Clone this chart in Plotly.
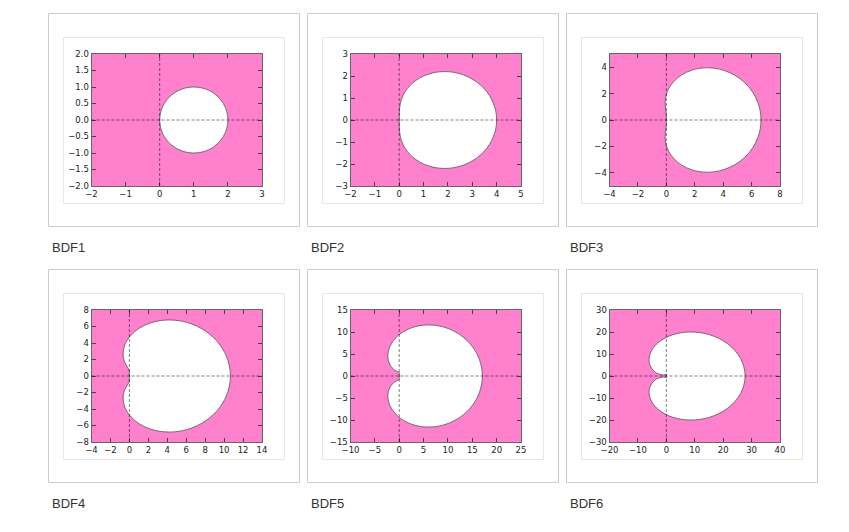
import plotly.graph_objects as go

PAGE_W, PAGE_H = 849, 532
BODY_MARGIN = 8  # the page places the figure 8px in from the top-left corner
W, H = PAGE_W - BODY_MARGIN, PAGE_H - BODY_MARGIN

# ---------------- data (upper half of each boundary locus) -------------
bdf1_x = [0, 0.0152, 0.0603, 0.1340, 0.2340, 0.3572, 0.5, 0.6580, 0.8264, 1, 1.1736, 1.2588, 1.3420, 1.4226, 1.5, 1.6088, 1.7071, 1.7934, 1.8660, 1.9239, 1.9659, 1.9914, 2]
bdf1_y = [0, 0.1736, 0.3420, 0.5, 0.6428, 0.7660, 0.8660, 0.9397, 0.9848, 1, 0.9848, 0.9659, 0.9397, 0.9063, 0.8660, 0.7934, 0.7071, 0.6088, 0.5, 0.3827, 0.2588, 0.1305, 0]

bdf2_x = [0, 0.0002, 0.0036, 0.0179, 0.0547, 0.1276, 0.25, 0.4329, 0.6829, 1, 1.3775, 1.5846, 1.8010, 2.0238, 2.25, 2.5881, 2.9142, 3.2161, 3.4821, 3.7013, 3.8649, 3.9659, 4]
bdf2_y = [0, 0.1763, 0.3627, 0.5670, 0.7932, 1.0397, 1.2990, 1.5580, 1.7986, 2, 2.1406, 2.1819, 2.2008, 2.1956, 2.1651, 2.0697, 1.9142, 1.7005, 1.4330, 1.1189, 0.7677, 0.3905, 0]

bdf3_x = [0, -0.0002, -0.0033, -0.0147, -0.0377, -0.0668, -0.0833, -0.0531, 0.0695, 0.3333, 0.7781, 1.0751, 1.4217, 1.8150, 2.25, 2.9634, 3.7190, 4.4741, 5.1814, 5.7932, 6.2658, 6.5645, 6.6667]
bdf3_y = [0, 0.1746, 0.3506, 0.5343, 0.7398, 0.9876, 1.2990, 1.6882, 2.1527, 2.6667, 3.1788, 3.4121, 3.6166, 3.7817, 3.8971, 3.9565, 3.8570, 3.5831, 3.1324, 2.5167, 1.7622, 0.9074, 0]

bdf4_x = [0, 0.0000, -0.0006, -0.0058, -0.0282, -0.0890, -0.2083, -0.3848, -0.5722, -0.6667, -0.5163, -0.2973, 0.0420, 0.5141, 1.125, 2.2936, 3.7190, 5.3065, 6.9224, 8.4104, 9.6129, 10.3952, 10.6667]
bdf4_y = [0, 0.1745, 0.3482, 0.5188, 0.6859, 0.8619, 1.0825, 1.4099, 1.9192, 2.6667, 3.6499, 4.2044, 4.7743, 5.3321, 5.8457, 6.4564, 6.7712, 6.6897, 6.1479, 5.1339, 3.6946, 1.9338, 0]

bdf5_x = [0, 0.0000, 0.0002, 0.0014, 0.0014, -0.0183, -0.1083, -0.3501, -0.8124, -1.4667, -2.1028, -2.2915, -2.3095, -2.0905, -1.575, -0.1552, 2.0704, 4.9878, 8.3153, 11.6373, 14.4769, 16.3910, 17.0667]
bdf5_y = [0, 0.1745, 0.3489, 0.5207, 0.6807, 0.8124, 0.9093, 1.0141, 1.2592, 1.8667, 3.0725, 3.9418, 4.9800, 6.1533, 7.4045, 9.2487, 10.7512, 11.5519, 11.3460, 9.9633, 7.4268, 3.9691, 0]

bdf6_x = [0, 0.0000, 0.0001, 0.0014, 0.0099, 0.0343, 0.0583, -0.0212, -0.4362, -1.4667, -3.1806, -4.1722, -5.1004, -5.7986, -6.075, -5.2842, -2.6200, 2.0449, 8.3153, 15.2707, 21.6404, 26.1198, 27.7333]
bdf6_y = [0, 0.1745, 0.3491, 0.5239, 0.6955, 0.8428, 0.9093, 0.8242, 0.6077, 0.5333, 1.2057, 2.0612, 3.3687, 5.1597, 7.4045, 11.3732, 15.4415, 18.6567, 20.0094, 18.7351, 14.5903, 7.9989, 0]

titles = ["BDF1", "BDF2", "BDF3", "BDF4", "BDF5", "BDF6"]
curves_x = [bdf1_x, bdf2_x, bdf3_x, bdf4_x, bdf5_x, bdf6_x]
curves_y = [bdf1_y, bdf2_y, bdf3_y, bdf4_y, bdf5_y, bdf6_y]
x_ranges = [[-2, 3], [-2, 5], [-4, 8], [-4, 14], [-10, 25], [-20, 40]]
y_ranges = [[-2, 2], [-3, 3], [-5, 5], [-8, 8], [-15, 15], [-30, 30]]
x_dticks = [1, 1, 2, 2, 5, 10]
y_dticks = [0.5, 1, 2, 2, 5, 10]
y_formats = [".1f", "", "", "", "", ""]

# ---------------- style ----------------
PINK = "#ff80cc"
CARD_BORDER = "#cccccc"
FRAME_BORDER = "#e6e6e6"
card_lefts = [48, 307, 566]
card_tops = [13, 269]
CARD_W, CARD_H = 251, 213


def px(x):
    return (x - BODY_MARGIN) / W


def py(y):
    return 1 - (y - BODY_MARGIN) / H


fig = go.Figure()
shapes = []
annotations = []

for i in range(6):
    r, c = divmod(i, 3)
    cl, ct = card_lefts[c], card_tops[r]
    # card outline
    shapes.append(dict(type="rect", xref="paper", yref="paper",
                       x0=px(cl + 0.5), x1=px(cl + CARD_W + 0.5),
                       y0=py(ct + 0.5), y1=py(ct + CARD_H + 0.5),
                       line=dict(color=CARD_BORDER, width=1), fillcolor="rgba(0,0,0,0)", layer="below"))
    # inner figure frame
    shapes.append(dict(type="rect", xref="paper", yref="paper",
                       x0=px(cl + 15.5), x1=px(cl + 236.5),
                       y0=py(ct + 24.5), y1=py(ct + 190.5),
                       line=dict(color=FRAME_BORDER, width=1), fillcolor="rgba(0,0,0,0)", layer="below"))
    # caption
    annotations.append(dict(text=titles[i], xref="paper", yref="paper",
                            x=px(cl + 1.5), y=py(ct + 234), xanchor="left", yanchor="middle",
                            showarrow=False, font=dict(family="Liberation Sans, Arial", size=13, color="#333333")))

    sfx = "" if i == 0 else str(i + 1)
    xa, ya = "x" + sfx, "y" + sfx
    xs = curves_x[i] + curves_x[i][-2::-1]
    ys = curves_y[i] + [-v for v in curves_y[i][-2::-1]]
    fig.add_trace(go.Scatter(x=xs, y=ys, mode="lines", fill="toself", fillcolor="white",
                             line=dict(color="#555555", width=0.8, shape="spline", smoothing=1.0),
                             xaxis=xa, yaxis=ya, showlegend=False, hoverinfo="skip"))

    left, right = cl + 43.5, cl + 214
    top, bottom = ct + 41, ct + 173
    common = dict(showgrid=False, zeroline=False, ticks="inside", ticklen=4, tickwidth=1,
                  tickcolor="#444444", showline=True, linecolor="#666666", linewidth=1,
                  mirror="ticks", tick0=0, automargin=False,
                  tickfont=dict(family="DejaVu Sans", size=8.5, color="#222222"))
    fig.update_layout(**{
        ("xaxis" + sfx): dict(domain=[px(left), px(right)], range=x_ranges[i], dtick=x_dticks[i],
                              anchor=ya, **common),
        ("yaxis" + sfx): dict(domain=[py(bottom), py(top)], range=y_ranges[i], dtick=y_dticks[i],
                              tickformat=y_formats[i], anchor=xa, **common),
    })
    # dashed zero lines
    shapes.append(dict(type="line", xref=xa, yref=ya + " domain", x0=0, x1=0, y0=0, y1=1,
                       line=dict(color="rgba(0,0,0,0.5)", width=1, dash="3px,2px"), layer="above"))
    shapes.append(dict(type="line", xref=xa + " domain", yref=ya, x0=0, x1=1, y0=0, y1=0,
                       line=dict(color="rgba(0,0,0,0.5)", width=1, dash="3px,2px"), layer="above"))

fig.update_layout(width=W, height=H, margin=dict(l=0, r=0, t=0, b=0, autoexpand=False),
                  paper_bgcolor="white", plot_bgcolor=PINK,
                  shapes=shapes, annotations=annotations, showlegend=False)

fig.write_html("out.html")
